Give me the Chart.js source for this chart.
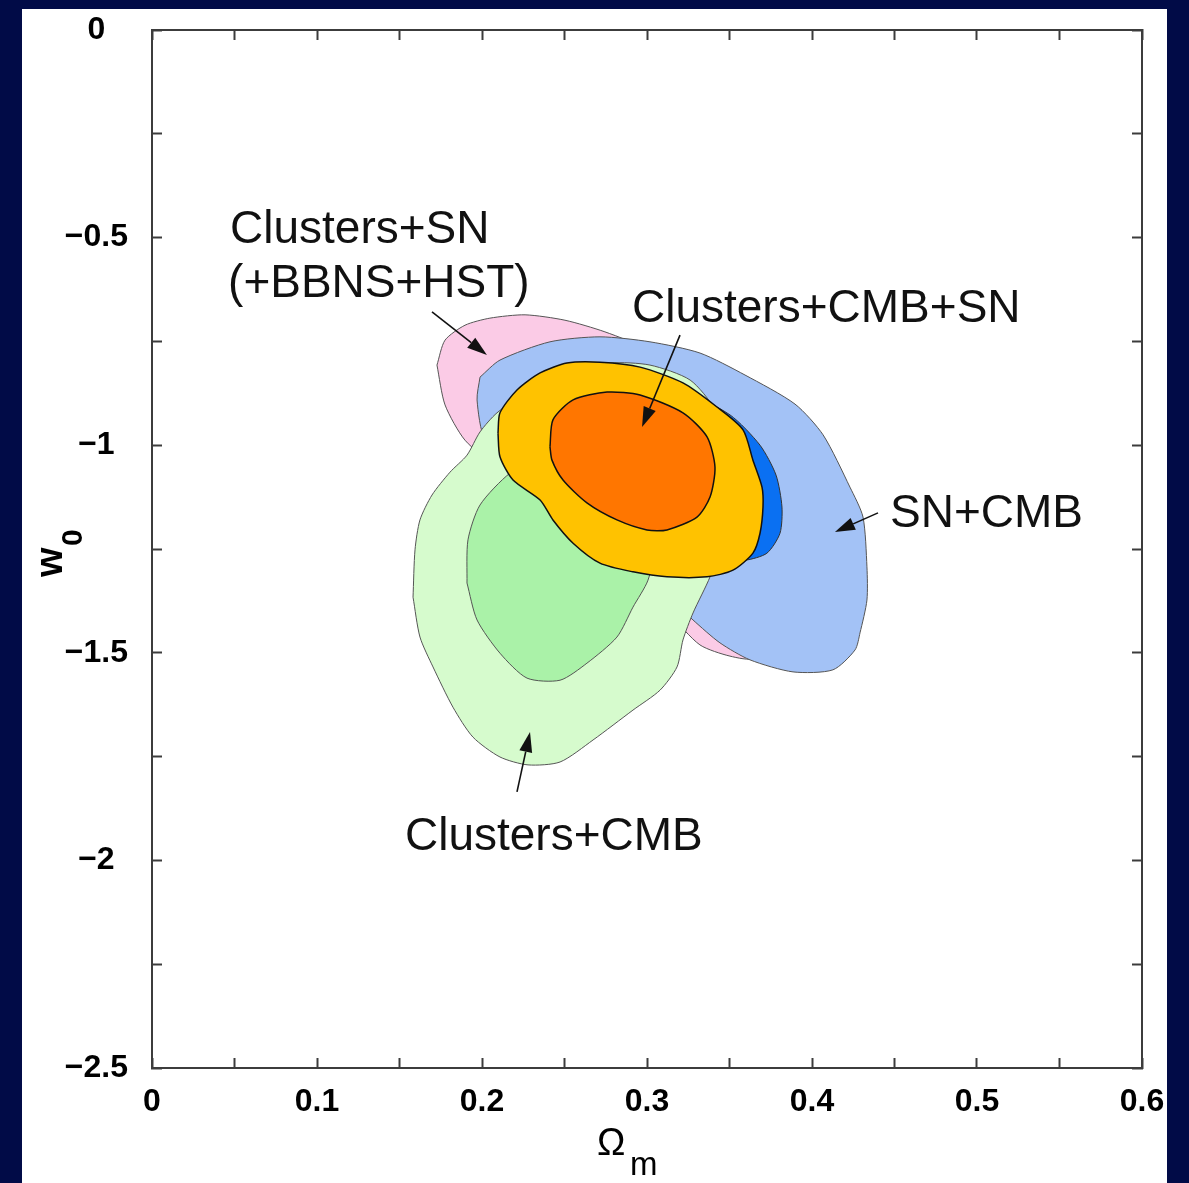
<!DOCTYPE html>
<html>
<head>
<meta charset="utf-8">
<script src="https://cdn.jsdelivr.net/npm/chart.js@4.4.1/dist/chart.umd.min.js"></script>
<style>
    html, body { margin: 0; padding: 0; background: #010b47; }
    body { width: 1189px; height: 1183px; position: relative; overflow: hidden; }
    .panel { position: absolute; left: 22px; top: 9px; width: 1145px; height: 1174px; background: #fff; overflow: hidden; }
</style>
</head>
<body>
<div class="panel"><canvas id="contourChart" width="1145" height="1174"></canvas></div>
<script>
// --- DATA (Omega_m, w0) ---
const xTickLabels = ['0', '0.1', '0.2', '0.3', '0.4', '0.5', '0.6'];
const yTickLabels = ['\u22122.5', '\u22122', '\u22121.5', '\u22121', '\u22120.5', '0'];

// Clusters+SN (+BBNS+HST), outer contour
const clustersSN = [
    [0.1727, -0.807], [0.1776, -0.747], [0.1897, -0.711], [0.2048, -0.694], [0.2261, -0.686],
    [0.2503, -0.699], [0.2745, -0.727], [0.3018, -0.771], [0.3321, -0.843], [0.3564, -0.939],
    [0.3745, -1.060], [0.3836, -1.180], [0.3836, -1.325], [0.3776, -1.445], [0.3655, -1.513],
    [0.3503, -1.508], [0.3321, -1.481], [0.3139, -1.409], [0.2836, -1.301], [0.2473, -1.180],
    [0.2109, -1.060], [0.1897, -0.988], [0.1776, -0.903]
];
// SN+CMB, outer and inner
const snCmbOuter = [
    [0.1988, -0.836], [0.2109, -0.795], [0.2412, -0.751], [0.2715, -0.739], [0.3018, -0.751],
    [0.3321, -0.778], [0.3594, -0.831], [0.3897, -0.901], [0.4067, -0.975], [0.4230, -1.101],
    [0.4309, -1.173], [0.4333, -1.293], [0.4333, -1.373], [0.4291, -1.452], [0.4261, -1.493],
    [0.4127, -1.541], [0.3885, -1.546], [0.3624, -1.517], [0.3442, -1.476], [0.3279, -1.421],
    [0.3018, -1.325], [0.2594, -1.204], [0.2230, -1.084], [0.2018, -0.988], [0.1970, -0.891]
];
const snCmbInner = [
    [0.2230, -0.891], [0.2473, -0.855], [0.2836, -0.843], [0.3200, -0.867], [0.3503, -0.927],
    [0.3685, -1.000], [0.3782, -1.072], [0.3818, -1.149], [0.3806, -1.212], [0.3727, -1.260],
    [0.3594, -1.277], [0.3321, -1.277], [0.2958, -1.240], [0.2594, -1.168], [0.2291, -1.072],
    [0.2170, -0.988]
];
// Clusters+CMB, outer and inner
const clustersCmbOuter = [
    [0.1582, -1.366], [0.1594, -1.252], [0.1624, -1.180], [0.1697, -1.120], [0.1806, -1.065],
    [0.1909, -1.024], [0.1988, -0.968], [0.2091, -0.922], [0.2291, -0.867], [0.2533, -0.824],
    [0.2776, -0.802], [0.3018, -0.807], [0.3261, -0.843], [0.3412, -0.915], [0.3473, -1.012],
    [0.3473, -1.132], [0.3430, -1.252], [0.3382, -1.317], [0.3279, -1.404], [0.3218, -1.469],
    [0.3182, -1.534], [0.3079, -1.590], [0.2915, -1.638], [0.2673, -1.710], [0.2473, -1.763],
    [0.2279, -1.770], [0.2109, -1.751], [0.1945, -1.703], [0.1824, -1.631], [0.1703, -1.534],
    [0.1624, -1.462]
];
const clustersCmbInner = [
    [0.1909, -1.332], [0.1915, -1.228], [0.1988, -1.144], [0.2170, -1.067], [0.2412, -1.012],
    [0.2715, -1.000], [0.2958, -1.024], [0.3079, -1.084], [0.3079, -1.204], [0.3006, -1.325],
    [0.2915, -1.390], [0.2818, -1.462], [0.2636, -1.525], [0.2473, -1.566], [0.2273, -1.561],
    [0.2109, -1.501], [0.1970, -1.421]
];
// Clusters+CMB+SN, outer and inner
const allOuter = [
    [0.2097, -0.971], [0.2109, -0.922], [0.2212, -0.867], [0.2352, -0.826], [0.2515, -0.802],
    [0.2715, -0.800], [0.2958, -0.812], [0.3218, -0.850], [0.3424, -0.908], [0.3582, -0.963],
    [0.3642, -1.036], [0.3697, -1.101], [0.3703, -1.149], [0.3685, -1.212], [0.3642, -1.260],
    [0.3521, -1.301], [0.3364, -1.317], [0.3121, -1.317], [0.2915, -1.305], [0.2715, -1.284],
    [0.2552, -1.236], [0.2430, -1.180], [0.2352, -1.132], [0.2188, -1.084], [0.2109, -1.028]
];
const allInner = [
    [0.2412, -1.004], [0.2430, -0.939], [0.2552, -0.891], [0.2758, -0.872], [0.2958, -0.879],
    [0.3218, -0.922], [0.3364, -0.980], [0.3412, -1.053], [0.3382, -1.125], [0.3303, -1.173],
    [0.3121, -1.204], [0.3000, -1.204], [0.2818, -1.180], [0.2636, -1.139], [0.2491, -1.084],
    [0.2424, -1.036]
];

// annotation texts and arrows (data coords)
const labelTexts = ['Clusters+SN', '(+BBNS+HST)', 'Clusters+CMB+SN', 'SN+CMB', 'Clusters+CMB'];
const labelX = [0.0473, 0.0461, 0.2909, 0.4473, 0.1533];
const labelY = [-0.513, -0.643, -0.703, -1.197, -1.975];
const arrowFrom = [[0.1697, -0.679], [0.3200, -0.735], [0.4400, -1.163], [0.2212, -1.835]];
const arrowTo = [[0.2030, -0.783], [0.2970, -0.956], [0.4139, -1.209], [0.2291, -1.691]];

function toPoints(arr) {
    const pts = arr.map(p => ({ x: p[0], y: p[1] }));
    pts.push({ x: arr[0][0], y: arr[0][1] });
    return pts;
}

function contour(label, arr, fillColor, edgeColor, edgeWidth) {
    return {
        label: label,
        data: toPoints(arr),
        showLine: true,
        fill: 'shape',
        backgroundColor: fillColor,
        borderColor: edgeColor,
        borderWidth: edgeWidth,
        pointRadius: 0,
        tension: 0.25,
        xAxisID: 'x',
        yAxisID: 'y'
    };
}

// fixed box sizes, no extra label padding from the scales
function fixSize(w, h) {
    return s => {
        if (w !== null) s.width = w;
        if (h !== null) s.height = h;
        s.paddingTop = 0; s.paddingBottom = 0; s.paddingLeft = 0; s.paddingRight = 0;
    };
}

document.addEventListener("DOMContentLoaded", function () {
    const axisColor = '#3c3c3c';
    const tickFont = { size: 32, weight: 'bold', family: 'Liberation Sans' };

    // annotations and axis titles
    const annotatePlugin = {
        id: 'annotate',
        afterDatasetsDraw(chart) {
            const c = chart.ctx;
            const xs = chart.scales.x, ys = chart.scales.y;
            c.save();
            c.fillStyle = '#111';
            c.strokeStyle = '#111';
            c.font = '46px "Liberation Sans"';
            c.textAlign = 'left';
            c.textBaseline = 'alphabetic';
            labelTexts.forEach((t, i) => {
                c.fillText(t, xs.getPixelForValue(labelX[i]), ys.getPixelForValue(labelY[i]));
            });
            c.lineWidth = 1.6;
            arrowFrom.forEach((f, i) => {
                const x1 = xs.getPixelForValue(f[0]), y1 = ys.getPixelForValue(f[1]);
                const x2 = xs.getPixelForValue(arrowTo[i][0]), y2 = ys.getPixelForValue(arrowTo[i][1]);
                const ang = Math.atan2(y2 - y1, x2 - x1);
                const hl = 20, hw = 6.5;
                const bx = x2 - hl * Math.cos(ang), by = y2 - hl * Math.sin(ang);
                c.beginPath();
                c.moveTo(x1, y1);
                c.lineTo(bx, by);
                c.stroke();
                c.beginPath();
                c.moveTo(x2, y2);
                c.lineTo(bx + hw * Math.sin(ang), by - hw * Math.cos(ang));
                c.lineTo(bx - hw * Math.sin(ang), by + hw * Math.cos(ang));
                c.closePath();
                c.fill();
            });
            // x title: Omega_m
            const area = chart.chartArea;
            c.fillStyle = '#000';
            c.font = '38px "Liberation Sans"';
            c.fillText('\u03A9', area.left + 445, area.bottom + 87);
            c.font = '33px "Liberation Sans"';
            c.fillText('m', area.left + 478, area.bottom + 107);
            // y title: w_0
            c.translate(area.left - 90, area.top + 547);
            c.rotate(-Math.PI / 2);
            c.font = 'bold 38px "Liberation Sans"';
            c.fillText('w', 0, 0);
            c.font = 'bold 30px "Liberation Sans"';
            c.fillText('0', 31, 20);
            c.restore();
        }
    };

    const ctx = document.getElementById('contourChart');
    new Chart(ctx.getContext('2d'), {
        type: 'scatter',
        data: {
            datasets: [
                contour('Clusters+CMB+SN 1', allInner, '#ff7600', '#111', 1.5),
                contour('Clusters+CMB+SN 2', allOuter, '#ffc200', '#111', 1.5),
                contour('Clusters+CMB 1', clustersCmbInner, '#aaf2a8', '#555', 1),
                contour('Clusters+CMB 2', clustersCmbOuter, '#d6fbcd', '#555', 1),
                contour('SN+CMB 1', snCmbInner, '#0a70f2', '#333', 1),
                contour('SN+CMB 2', snCmbOuter, '#a3c2f6', '#555', 1),
                contour('Clusters+SN', clustersSN, '#fbcbe6', '#555', 1)
            ]
        },
        options: {
            responsive: false,
            animation: false,
            plugins: { legend: { display: false }, tooltip: { enabled: false } },
            layout: { padding: { left: 0, right: 25, top: 21, bottom: 0 } },
            scales: {
                x: {
                    type: 'linear', position: 'bottom', min: 0, max: 0.6,
                    afterFit: fixSize(null, 115),
                    border: { display: true, color: axisColor, width: 2 },
                    grid: { drawOnChartArea: false, drawTicks: true, tickLength: -10, tickColor: axisColor, tickWidth: 2 },
                    ticks: {
                        stepSize: 0.05, autoSkip: false, maxRotation: 0, color: '#000', font: tickFont, padding: 25,
                        callback: (v, i) => (i % 2 === 0 ? xTickLabels[i / 2] : '')
                    }
                },
                x2: {
                    type: 'linear', position: 'top', min: 0, max: 0.6,
                    afterFit: fixSize(null, 0),
                    border: { display: true, color: axisColor, width: 2 },
                    grid: { drawOnChartArea: false, drawTicks: true, tickLength: -10, tickColor: axisColor, tickWidth: 2 },
                    ticks: { stepSize: 0.05, display: false }
                },
                y: {
                    type: 'linear', position: 'left', min: -2.5, max: 0,
                    afterFit: fixSize(130, null),
                    border: { display: true, color: axisColor, width: 2 },
                    grid: { drawOnChartArea: false, drawTicks: true, tickLength: -10, tickColor: axisColor, tickWidth: 2 },
                    ticks: {
                        stepSize: 0.25, autoSkip: false, crossAlign: 'center', color: '#000', font: tickFont, padding: 34,
                        callback: (v, i) => (i % 2 === 0 ? yTickLabels[i / 2] : '')
                    }
                },
                y2: {
                    type: 'linear', position: 'right', min: -2.5, max: 0,
                    afterFit: fixSize(0, null),
                    border: { display: true, color: axisColor, width: 2 },
                    grid: { drawOnChartArea: false, drawTicks: true, tickLength: -10, tickColor: axisColor, tickWidth: 2 },
                    ticks: { stepSize: 0.25, display: false }
                }
            }
        },
        plugins: [annotatePlugin]
    });
});
</script>
</body>
</html>
